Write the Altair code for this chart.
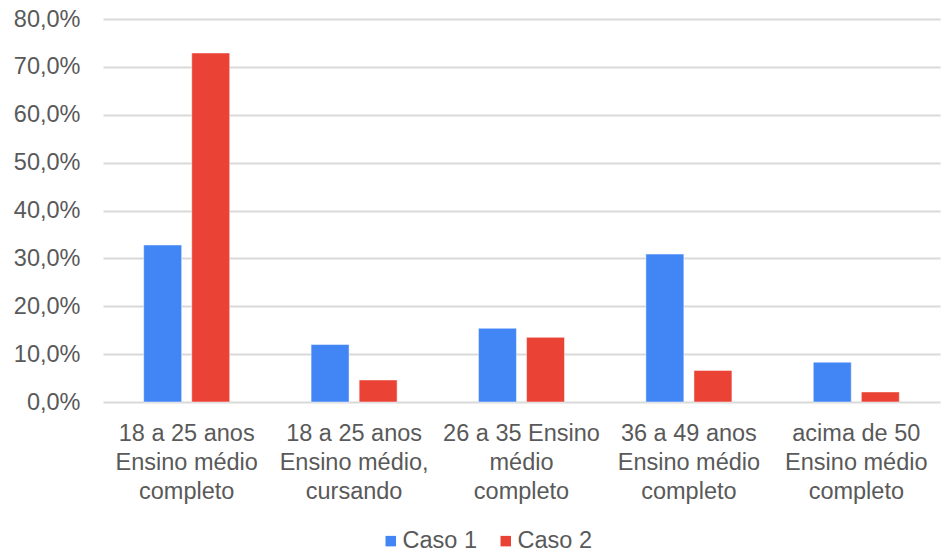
import altair as alt
import pandas as pd

categories = [
    "18 a 25 anos\nEnsino médio\ncompleto",
    "18 a 25 anos\nEnsino médio,\ncursando",
    "26 a 35 Ensino\nmédio\ncompleto",
    "36 a 49 anos\nEnsino médio\ncompleto",
    "acima de 50\nEnsino médio\ncompleto",
]
caso1 = [0.328, 0.120, 0.154, 0.309, 0.083]
caso2 = [0.729, 0.046, 0.135, 0.066, 0.021]
series = ["Caso 1", "Caso 2"]
y_ticks = [0, 0.1, 0.2, 0.3, 0.4, 0.5, 0.6, 0.7, 0.8]

rows = []
for c, a, b in zip(categories, caso1, caso2):
    rows.append({"cat": c, "serie": series[0], "valor": a})
    rows.append({"cat": c, "serie": series[1], "valor": b})
df = pd.DataFrame(rows)

FONT = "Liberation Sans"
TXT = "#595959"

chart = (
    alt.Chart(df)
    .mark_bar(stroke="white", strokeWidth=0.8, strokeOpacity=0.6)
    .encode(
        x=alt.X(
            "cat:N",
            sort=categories,
            scale=alt.Scale(paddingInner=0.486, paddingOuter=0.243),
            axis=alt.Axis(
                title=None,
                labelAngle=0,
                labelExpr="split(datum.label, '\\n')",
                labelFont=FONT,
                labelFontSize=23.5,
                labelColor=TXT,
                labelLineHeight=29,
                labelPadding=19,
                labelBaseline="top",
                labelLimit=0,
                ticks=False,
                domain=False,
                grid=False,
            ),
        ),
        xOffset=alt.XOffset(
            "serie:N", sort=series, scale=alt.Scale(paddingInner=0.21, paddingOuter=0)
        ),
        y=alt.Y(
            "valor:Q",
            scale=alt.Scale(domain=[0, 0.8], nice=False),
            axis=alt.Axis(
                title=None,
                values=y_ticks,
                labelExpr="replace(format(datum.value, '.1%'), '.', ',')",
                labelFont=FONT,
                labelFontSize=23.5,
                labelColor=TXT,
                labelPadding=23,
                ticks=False,
                domain=False,
                gridColor="#d9d9d9",
                gridWidth=2,
            ),
        ),
        color=alt.Color(
            "serie:N",
            sort=series,
            scale=alt.Scale(domain=series, range=["#4285F4", "#EA4335"]),
            legend=alt.Legend(
                title=None,
                orient="none",
                direction="horizontal",
                legendX=276,
                legendY=510,
                symbolType="square",
                symbolSize=110,
                symbolStrokeWidth=0,
                labelFont=FONT,
                labelFontSize=23.5,
                labelColor=TXT,
                columnPadding=17,
                labelOffset=0,
            ),
        ),
    )
    .properties(
        width=837,
        height=383,
        padding={"left": 103, "top": 19, "right": 3, "bottom": 152},
        autosize=alt.AutoSizeParams(type="none"),
    )
    .configure_view(stroke=None)
)

chart.save("out.html", embed_options={"renderer": "svg", "actions": False})
